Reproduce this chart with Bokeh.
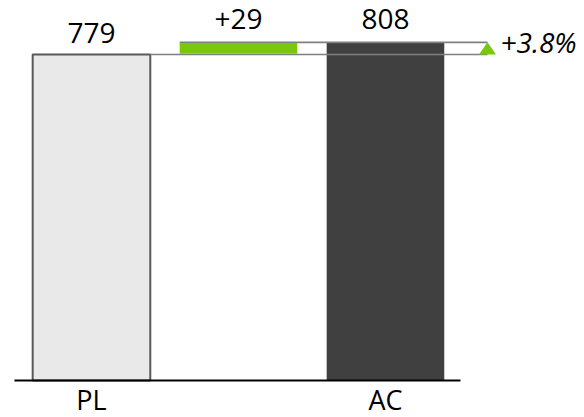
from bokeh.plotting import figure
from bokeh.models import Range1d
from bokeh.core.properties import value
from bokeh.embed import file_html
from bokeh.resources import INLINE

# ---- data ----
categories = ["PL", "", "AC"]
pl_value = 779
ac_value = 808
value_labels = ["779", "+29", "808"]
pct_label = "+3.8%"

# ---- styles ----
FONT = "Open Sans"
PL_FILL = "#e9e9e9"
PL_LINE = "#595959"
AC_FILL = "#404040"
GREEN = "#7ac70c"
CONNECT = "#808080"
FS = "28px"

p = figure(width=584, height=417, output_backend="svg", toolbar_location=None,
           x_range=Range1d(-0.619, 3.354), y_range=Range1d(-88.4, 908.0),
           min_border=0, min_border_left=0, min_border_right=0,
           min_border_top=0, min_border_bottom=0)
p.axis.visible = False
p.xgrid.visible = False
p.ygrid.visible = False
p.outline_line_color = None
p.background_fill_color = "white"
p.border_fill_color = "white"

xs = list(range(len(categories)))
bw = 0.8
marker_x = xs[-1] + 0.694

# PL bar
p.vbar(x=[xs[0]], top=[pl_value], bottom=[0], width=bw,
       fill_color=PL_FILL, line_color=PL_LINE, line_width=2)
# AC bar
p.vbar(x=[xs[2]], top=[ac_value], bottom=[0], width=bw,
       fill_color=AC_FILL, line_color=None)

# connector lines
p.segment(x0=[xs[0] + bw / 2, xs[1] - bw / 2], y0=[pl_value, ac_value],
          x1=[marker_x, marker_x], y1=[pl_value, ac_value],
          line_color=CONNECT, line_width=1.6)

# delta bar
p.vbar(x=[xs[1]], top=[ac_value - 1.5], bottom=[pl_value + 1.5], width=bw,
       fill_color=GREEN, line_color=None)

# triangle marker
tw = 0.058
p.patch(x=[marker_x - tw, marker_x + tw, marker_x], y=[pl_value, pl_value, ac_value],
        fill_color=GREEN, line_color=None)

# baseline
p.segment(x0=[xs[0] - 0.524], y0=[0], x1=[xs[-1] + 0.51], y1=[0],
          line_color="black", line_width=2)

# value labels
tops = [pl_value, ac_value, ac_value]
offsets = [-21, -23, -23]
for x, t, lab, off in zip(xs, tops, value_labels, offsets):
    p.text(x=[x], y=[t], text=[lab], text_font=value(FONT), text_font_size=FS,
           text_align="center", text_baseline="alphabetic", y_offset=off,
           text_color="black")

# category labels
for x, lab in zip(xs, categories):
    if lab:
        p.text(x=[x], y=[0], text=[lab], text_font=value(FONT), text_font_size="27px",
               text_align="center", text_baseline="alphabetic", y_offset=19,
               text_color="black")

# percentage label
p.text(x=[marker_x], y=[pl_value], text=[pct_label], text_font=value(FONT),
       text_font_size=FS, text_font_style="italic", text_align="left",
       text_baseline="alphabetic", x_offset=13, y_offset=-12, text_color="black")

open("out.html", "w").write(file_html(p, INLINE))
